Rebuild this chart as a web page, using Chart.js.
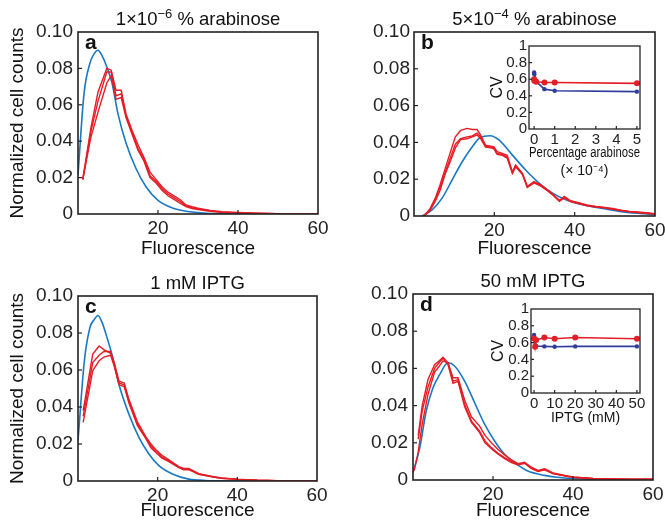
<!DOCTYPE html>
<html>
<head>
<meta charset="utf-8">
<script src="https://cdn.jsdelivr.net/npm/chart.js@4.4.1/dist/chart.umd.min.js"></script>
<style>
  body { margin: 0; background: #fff; width: 665px; height: 523px; overflow: hidden; position: relative; }
  canvas { position: absolute; }
</style>
</head>
<body>
<canvas id="pa" width="340" height="262" style="left:0px;top:0px"></canvas>
<canvas id="pb" width="340" height="262" style="left:336px;top:0px"></canvas>
<canvas id="pc" width="340" height="261" style="left:0px;top:262px"></canvas>
<canvas id="pd" width="340" height="261" style="left:335px;top:262px"></canvas>
<canvas id="ib" width="190" height="145" style="left:470px;top:35px"></canvas>
<canvas id="id" width="190" height="135" style="left:470px;top:298px"></canvas>
<script>
// tick values
var mainXTicks = [0, 20, 40, 60];
var mainYTicks = [0, 0.02, 0.04, 0.06, 0.08, 0.10];
var insetYTicks = [0, 0.2, 0.4, 0.6, 0.8, 1];
var bInsetXTicks = [0, 1, 2, 3, 4, 5];
var dInsetXTicks = [0, 10, 20, 30, 40, 50];

// titles ([text, superscript?])
var aTitle = [['1\u00d710', false], ['\u22126', true], [' % arabinose', false]];
var bTitle = [['5\u00d710', false], ['\u22124', true], [' % arabinose', false]];
var cTitle = [['1 mM IPTG', false]];
var dTitle = [['50 mM IPTG', false]];

// panel a : 1e-6 % arabinose
var aBlueX = [0, 1.5, 3, 4, 5, 6, 7, 8.5, 10, 12, 14.5, 17, 20, 24, 28, 32, 40, 50, 60];
var aBlueY = [0.0215, 0.066, 0.083, 0.088, 0.090, 0.087, 0.082, 0.072, 0.055, 0.039, 0.025, 0.015, 0.0075, 0.003, 0.0012, 0.0004, 0.0001, 0, 0];
var aRedX = [1.2, 3.2, 5, 7.2, 8.3, 9.5, 10.8, 12, 13.5, 15, 16.5, 18, 19.5, 21, 22.5, 24, 25.5, 27, 28.5, 30, 33, 36, 40, 45, 50, 55, 60];
var aRed1 = [0.019, 0.047, 0.067, 0.080, 0.079, 0.068, 0.068, 0.055, 0.046, 0.038, 0.031, 0.023, 0.019, 0.015, 0.012, 0.010, 0.008, 0.005, 0.004, 0.0032, 0.002, 0.0012, 0.0008, 0.0004, 0.0002, 0.0001, 0];
var aRed2 = [0.019, 0.045, 0.062, 0.078, 0.078, 0.065, 0.066, 0.054, 0.045, 0.036, 0.030, 0.021, 0.018, 0.014, 0.011, 0.009, 0.007, 0.0045, 0.0035, 0.0028, 0.0018, 0.001, 0.0006, 0.0003, 0.0002, 0.0001, 0];
var aRed3 = [0.019, 0.042, 0.056, 0.072, 0.076, 0.063, 0.064, 0.053, 0.044, 0.035, 0.029, 0.020, 0.017, 0.013, 0.010, 0.008, 0.006, 0.004, 0.003, 0.0025, 0.0015, 0.0009, 0.0005, 0.0003, 0.0001, 0.0001, 0];

// panel b : 5e-4 % arabinose
var bBlueX = [2, 4.5, 7, 9.5, 12, 14.5, 16.2, 17.5, 19, 21.2, 24.5, 27.8, 31.2, 34.5, 37.8, 41.2, 46.2, 51.2, 56.2, 60];
var bBlueY = [0, 0.0033, 0.0097, 0.0196, 0.0295, 0.0376, 0.0422, 0.0433, 0.0436, 0.0412, 0.0331, 0.025, 0.0178, 0.0124, 0.0088, 0.0065, 0.0043, 0.0025, 0.0014, 0.0008];
var bRedX = [2.5, 4, 5.3, 6.5, 7.8, 9.1, 10.3, 11.6, 13.2, 14.5, 15.7, 16.6, 17.8, 19.1, 19.9, 20.7, 22, 23.2, 24.5, 25.3, 27, 28.2, 29.9, 31.6, 33.2, 34.5, 36.2, 37.4, 39, 41.2, 43, 45.3, 47.5, 49.4, 51.5, 53.6, 55.5, 57.7, 60];
var bRed1 = [0, 0.004, 0.0097, 0.017, 0.026, 0.035, 0.043, 0.0465, 0.0476, 0.047, 0.047, 0.044, 0.0385, 0.038, 0.0376, 0.035, 0.034, 0.033, 0.024, 0.0277, 0.0232, 0.016, 0.0187, 0.0169, 0.0142, 0.012, 0.0083, 0.0106, 0.0083, 0.0071, 0.006, 0.0052, 0.0047, 0.0041, 0.0032, 0.0025, 0.0022, 0.0018, 0.0012];
var bRed2 = [0, 0.0035, 0.009, 0.0155, 0.024, 0.032, 0.039, 0.042, 0.043, 0.0435, 0.045, 0.043, 0.038, 0.0375, 0.037, 0.034, 0.0335, 0.032, 0.0235, 0.0272, 0.0228, 0.016, 0.0183, 0.0165, 0.014, 0.0118, 0.0085, 0.0102, 0.008, 0.0068, 0.0058, 0.005, 0.0045, 0.0038, 0.003, 0.0024, 0.002, 0.0016, 0.0011];
var bRed3 = [0, 0.003, 0.008, 0.014, 0.023, 0.030, 0.037, 0.0415, 0.042, 0.043, 0.044, 0.042, 0.0375, 0.037, 0.0365, 0.0335, 0.033, 0.0315, 0.0232, 0.0268, 0.0225, 0.0155, 0.018, 0.0162, 0.0138, 0.0115, 0.008, 0.0098, 0.0078, 0.0066, 0.0056, 0.0049, 0.0044, 0.0037, 0.003, 0.0023, 0.0019, 0.0015, 0.001];

// panel c : 1 mM IPTG
var cBlueX = [0, 1.6, 3, 4, 5, 6, 7, 8.7, 10.3, 12.8, 15.3, 17.8, 20.3, 23.7, 27.8, 32, 40, 50, 60];
var cBlueY = [0.0218, 0.065, 0.083, 0.087, 0.0895, 0.086, 0.0795, 0.067, 0.052, 0.036, 0.0236, 0.0146, 0.0083, 0.0038, 0.001, 0.0003, 0.0001, 0, 0];
var cRedX = [1.3, 3.7, 5.3, 6.5, 8.2, 9.1, 10.3, 11.6, 12.8, 14.9, 17, 18.3, 19.5, 21, 22.8, 25.3, 26.5, 27.8, 30.3, 33.7, 36, 40, 45, 50, 55, 60];
var cRed1 = [0.038, 0.0686, 0.073, 0.071, 0.069, 0.064, 0.054, 0.053, 0.044, 0.032, 0.024, 0.020, 0.017, 0.014, 0.0115, 0.0078, 0.0068, 0.0068, 0.004, 0.0025, 0.0017, 0.001, 0.0004, 0.0002, 0.0001, 0];
var cRed2 = [0.035, 0.064, 0.068, 0.070, 0.070, 0.063, 0.053, 0.052, 0.043, 0.031, 0.0235, 0.019, 0.016, 0.013, 0.011, 0.0075, 0.0065, 0.0065, 0.0038, 0.0023, 0.0015, 0.0009, 0.0004, 0.0002, 0.0001, 0];
var cRed3 = [0.0317, 0.0596, 0.065, 0.067, 0.068, 0.062, 0.052, 0.051, 0.042, 0.030, 0.023, 0.018, 0.0155, 0.0125, 0.0105, 0.0072, 0.006, 0.0062, 0.0036, 0.0022, 0.0015, 0.0009, 0.0004, 0.0002, 0.0001, 0];

// panel d : 50 mM IPTG
var dBlueX = [0, 1.7, 3.3, 5, 6.7, 8.75, 10.4, 12.9, 15.4, 17.9, 20.4, 22.9, 25.4, 28.7, 32.9, 36, 40, 45, 50, 60];
var dBlueY = [0.004, 0.0174, 0.037, 0.0496, 0.0568, 0.063, 0.0613, 0.0532, 0.0416, 0.030, 0.021, 0.0138, 0.0093, 0.0048, 0.0025, 0.0015, 0.0008, 0.0003, 0.0001, 0];
var dRedX = [0.3, 1.3, 2.3, 3.75, 5.4, 6.5, 7.5, 8.75, 10, 11.25, 12.9, 14.6, 16.65, 18, 19.6, 21.2, 22.9, 24.5, 26.25, 27.9, 29.5, 31.25, 32.9, 35, 38, 40, 45, 50, 55, 60];
var dRed1 = [null, 0.024, 0.040, 0.054, 0.062, 0.064, 0.066, 0.063, 0.0532, 0.054, 0.0407, 0.0317, 0.0263, 0.021, 0.0174, 0.0145, 0.012, 0.010, 0.0084, 0.0093, 0.0065, 0.0048, 0.0057, 0.0035, 0.0022, 0.0015, 0.0008, 0.0005, 0.0004, 0.0004];
var dRed2 = [0.005, 0.015, 0.030, 0.046, 0.058, 0.061, 0.064, 0.063, 0.055, 0.055, 0.043, 0.034, 0.029, 0.024, 0.020, 0.0165, 0.0135, 0.011, 0.0088, 0.0095, 0.007, 0.0052, 0.006, 0.0038, 0.0024, 0.0016, 0.0008, 0.0005, 0.0004, 0.0004];
var dRed3 = [null, 0.022, 0.037, 0.050, 0.060, 0.063, 0.0655, 0.062, 0.052, 0.053, 0.0395, 0.031, 0.0255, 0.020, 0.0168, 0.014, 0.0115, 0.0095, 0.008, 0.009, 0.0062, 0.0046, 0.0055, 0.0034, 0.0021, 0.0014, 0.0007, 0.0004, 0.0003, 0.0003];

// insets (CV)
var bInsetX = [0, 0.01, 0.1, 0.5, 1, 5];
var bInsetBlue = [0.68, 0.66, 0.57, 0.48, 0.46, 0.45];
var bInsetRed = [0.60, 0.58, 0.57, 0.56, 0.56, 0.55];
var dInsetX = [0, 0.5, 1, 5, 10, 20, 50];
var dInsetBlue = [0.69, 0.57, 0.56, 0.555, 0.55, 0.555, 0.555];
var dInsetRed = [0.65, 0.55, 0.63, 0.66, 0.645, 0.66, 0.645];

var FONT = "'Liberation Sans', Arial, Helvetica, sans-serif";
var BLUE = '#1a78c2';
var RED = '#e41e26';
var NAVY = '#2e3c9c';
var INK = '#222';

Chart.defaults.font.family = FONT;
Chart.defaults.color = INK;

function pts(xs, ys) {
    return xs.map(function (x, i) { return { x: x, y: ys[i] }; });
}

function fixTicks(list) {
    return function (scale) { scale.ticks = list.map(function (v) { return { value: v }; }); };
}

// draws a box round the plot area, little inward ticks, the title and the panel letter
var framePlugin = {
    id: 'frame',
    afterDraw: function (chart, args, o) {
        var ctx = chart.ctx, a = chart.chartArea, sx = chart.scales.x, sy = chart.scales.y;
        ctx.save();
        ctx.strokeStyle = INK;
        ctx.lineWidth = o.width;
        ctx.strokeRect(a.left, a.top, a.right - a.left, a.bottom - a.top);
        ctx.lineWidth = 1.2;
        sx.ticks.forEach(function (t) {
            var p = sx.getPixelForValue(t.value);
            if (p <= a.left + 1 || p >= a.right - 1) return;
            ctx.beginPath(); ctx.moveTo(p, a.bottom); ctx.lineTo(p, a.bottom - o.tick); ctx.stroke();
        });
        sy.ticks.forEach(function (t) {
            var p = sy.getPixelForValue(t.value);
            if (p <= a.top + 1 || p >= a.bottom - 1) return;
            ctx.beginPath(); ctx.moveTo(a.left, p); ctx.lineTo(a.left + o.tick, p); ctx.stroke();
        });
        if (o.title) {
            var big = '18.5px ' + FONT, small = '13px ' + FONT;
            var w = 0;
            o.title.forEach(function (p) { ctx.font = p[1] ? small : big; w += ctx.measureText(p[0]).width; });
            var x = (a.left + a.right) / 2 - w / 2, y = a.top - 12;
            ctx.fillStyle = '#111';
            ctx.textBaseline = 'middle';
            ctx.textAlign = 'left';
            o.title.forEach(function (p) {
                ctx.font = p[1] ? small : big;
                ctx.fillText(p[0], x, p[1] ? y - 6 : y);
                x += ctx.measureText(p[0]).width;
            });
        }
        if (o.letter) {
            ctx.font = 'bold 21px ' + FONT;
            ctx.fillStyle = '#111';
            ctx.textBaseline = 'alphabetic';
            ctx.textAlign = 'left';
            ctx.fillText(o.letter, a.left + 7, a.top + 17);
        }
        ctx.restore();
    }
};

function redSet(xs, ys) {
    return { data: pts(xs, ys), borderColor: RED, borderWidth: 1.4, pointRadius: 0, tension: 0, spanGaps: false };
}

function mainChart(id, p) {
    var xs = {
        type: 'linear', min: 0, max: 60,
        afterBuildTicks: fixTicks(mainXTicks),
        afterFit: function (s) { s.height = p.xh; },
        grid: { display: false, drawTicks: false },
        border: { display: false },
        ticks: { font: { size: 19 }, padding: 3, color: INK, maxRotation: 0, autoSkip: false,
            callback: function (v) { return v === 0 ? '' : String(v); } },
        title: { display: true, text: 'Fluorescence', font: { size: 19 }, color: '#111',
            padding: { top: 0, bottom: p.xtPad } }
    };
    var ys = {
        type: 'linear', min: 0, max: 0.10,
        afterBuildTicks: fixTicks(mainYTicks),
        afterFit: function (s) { s.width = 78; },
        grid: { display: false, drawTicks: false },
        border: { display: false },
        ticks: { font: { size: 19 }, padding: p.yPad, color: INK, autoSkip: false,
            callback: function (v) { return v === 0 ? '0' : v.toFixed(2); } },
        title: { display: p.ytitle, text: 'Normalized cell counts', font: { size: 19 }, color: '#111',
            padding: { top: 6, bottom: 0 } }
    };
    return new Chart(document.getElementById(id), {
        type: 'line',
        data: {
            datasets: [
                redSet(p.redX, p.red[0]),
                redSet(p.redX, p.red[1]),
                redSet(p.redX, p.red[2]),
                { data: pts(p.blueX, p.blueY), borderColor: BLUE, borderWidth: 1.6, pointRadius: 0,
                  tension: 0.4, cubicInterpolationMode: 'monotone' }
            ]
        },
        options: {
            responsive: false, animation: false, events: [],
            layout: { padding: { top: p.top, right: p.right, left: 0, bottom: 0 } },
            scales: { x: xs, y: ys },
            plugins: {
                legend: { display: false }, tooltip: { enabled: false },
                frame: { width: 1.6, tick: 4, title: p.title, letter: p.letter }
            }
        },
        plugins: [framePlugin]
    });
}

function insetChart(id, p) {
    return new Chart(document.getElementById(id), {
        type: 'line',
        data: {
            datasets: [
                { data: pts(p.x, p.red), borderColor: RED, backgroundColor: RED, borderWidth: 1.6,
                  pointRadius: 3, pointBorderWidth: 0, pointBackgroundColor: RED, tension: 0 },
                { data: pts(p.x, p.blue), borderColor: NAVY, backgroundColor: NAVY, borderWidth: 1.6,
                  pointRadius: 2.2, pointBorderWidth: 0, pointBackgroundColor: NAVY, tension: 0 }
            ]
        },
        options: {
            responsive: false, animation: false, events: [],
            layout: { padding: { top: p.top, right: 20, left: 0, bottom: 0 } },
            scales: {
                x: {
                    type: 'linear', min: p.min, max: p.max,
                    afterBuildTicks: fixTicks(p.ticks),
                    afterFit: function (s) { s.height = p.xh; },
                    grid: { display: false, drawTicks: false },
                    border: { display: false },
                    ticks: { font: { size: 15 }, padding: 2, color: INK, maxRotation: 0, autoSkip: false },
                    title: { display: true, text: p.xtitle, font: { size: 14, lineHeight: 1.25 }, color: '#111',
                        padding: { top: 0, bottom: p.xtPad } }
                },
                y: {
                    type: 'linear', min: 0, max: 1,
                    afterBuildTicks: fixTicks(insetYTicks),
                    afterFit: function (s) { s.width = p.yw; },
                    grid: { display: false, drawTicks: false },
                    border: { display: false },
                    ticks: { font: { size: 15 }, padding: 2, color: INK, autoSkip: false,
                        callback: function (v) { return String(+v.toFixed(1)); } },
                    title: { display: true, text: 'CV', font: { size: 16 }, color: '#111',
                        padding: { top: p.cvPad, bottom: 0 } }
                }
            },
            plugins: {
                legend: { display: false }, tooltip: { enabled: false },
                frame: { width: 1.3, tick: 3 }
            }
        },
        plugins: [framePlugin]
    });
}

mainChart('pa', { blueX: aBlueX, blueY: aBlueY, redX: aRedX, red: [aRed1, aRed2, aRed3],
    title: aTitle, letter: 'a', ytitle: true, top: 32, right: 22, xh: 48, xtPad: 2, yPad: 5 });
mainChart('pb', { blueX: bBlueX, blueY: bBlueY, redX: bRedX, red: [bRed1, bRed2, bRed3],
    title: bTitle, letter: 'b', ytitle: false, top: 32, right: 340 - (655 - 336), xh: 46, xtPad: 2, yPad: 4 });
mainChart('pc', { blueX: cBlueX, blueY: cBlueY, redX: cRedX, red: [cRed1, cRed2, cRed3],
    title: cTitle, letter: 'c', ytitle: true, top: 34, right: 23, xh: 42, xtPad: 0.5, yPad: 5 });
mainChart('pd', { blueX: dBlueX, blueY: dBlueY, redX: dRedX, red: [dRed1, dRed2, dRed3],
    title: dTitle, letter: 'd', ytitle: false, top: 32, right: 340 - (653 - 335), xh: 43, xtPad: 0.5, yPad: 5 });

insetChart('ib', { x: bInsetX, red: bInsetRed, blue: bInsetBlue, min: -0.25, max: 5.15, ticks: bInsetXTicks,
    xtitle: ['Percentage arabinose', '(\u00d7 10\u207b\u2074)'], top: 10, yw: 59, xh: 51, xtPad: 0.5, cvPad: 18 });
insetChart('id', { x: dInsetX, red: dInsetRed, blue: dInsetBlue, min: -1.5, max: 51.5, ticks: dInsetXTicks,
    xtitle: 'IPTG (mM)', top: 11, yw: 61, xh: 40, xtPad: 6, cvPad: 19 });
</script>
</body>
</html>
